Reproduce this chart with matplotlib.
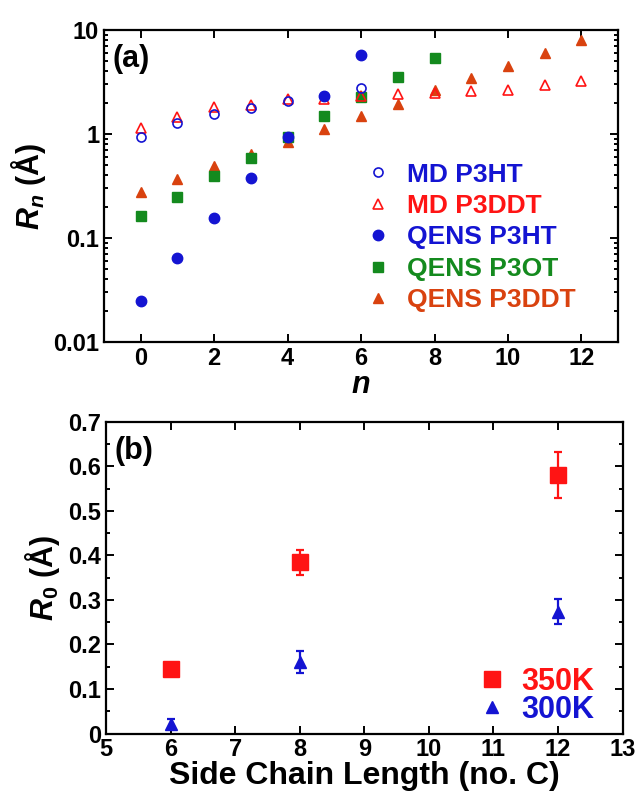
import numpy as np
import matplotlib
matplotlib.use("Agg")
import matplotlib.pyplot as plt
from matplotlib.ticker import FixedLocator, FixedFormatter, LogLocator, NullFormatter, MultipleLocator

plt.rcParams['font.family'] = ['Liberation Sans', 'DejaVu Sans']
plt.rcParams['font.weight'] = 'bold'
plt.rcParams['axes.labelweight'] = 'bold'
plt.rcParams['mathtext.fontset'] = 'custom'
plt.rcParams['mathtext.it'] = 'Liberation Sans:italic:bold'
plt.rcParams['mathtext.rm'] = 'Liberation Sans:bold'
plt.rcParams['axes.linewidth'] = 1.6

BLUE = '#1414d2'
RED = '#ff1414'
GREEN = '#148a1e'
ORANGE = '#d9420f'

# (a) R_n versus n
n_md_p3ht = [0, 1, 2, 3, 4, 5, 6]
md_p3ht = [0.94, 1.27, 1.56, 1.77, 2.08, 2.30, 2.75]
n_md_p3ddt = [0, 1, 2, 3, 4, 5, 6, 7, 8, 9, 10, 11, 12]
md_p3ddt = [1.15, 1.45, 1.80, 1.90, 2.15, 2.17, 2.30, 2.41, 2.46, 2.59, 2.65, 2.96, 3.26]
n_qens_p3ht = [0, 1, 2, 3, 4, 5, 6]
qens_p3ht = [0.0248, 0.0638, 0.155, 0.38, 0.93, 2.33, 5.75]
n_qens_p3ot = [0, 1, 2, 3, 4, 5, 6, 7, 8]
qens_p3ot = [0.164, 0.249, 0.395, 0.592, 0.94, 1.49, 2.25, 3.56, 5.42]
n_qens_p3ddt = [0, 1, 2, 3, 4, 5, 6, 7, 8, 9, 10, 11, 12]
qens_p3ddt = [0.279, 0.367, 0.49, 0.64, 0.84, 1.13, 1.49, 1.94, 2.65, 3.48, 4.54, 5.97, 8.0]

# (b) R_0 versus side chain length
chain = [6, 8, 12]
r0_350 = [0.144, 0.385, 0.580]
r0_350_err = [0.012, 0.028, 0.052]
r0_300 = [0.022, 0.161, 0.274]
r0_300_err = [0.010, 0.024, 0.028]

fig = plt.figure(figsize=(6.38, 7.93), dpi=100)
ax1 = fig.add_axes([0.163, 0.569, 0.806, 0.393])
ax2 = fig.add_axes([0.166, 0.075, 0.810, 0.393])

ax1.plot(n_qens_p3ddt, qens_p3ddt, '^', color=ORANGE, ms=7, label='QENS P3DDT', zorder=3)
ax1.plot(n_qens_p3ot, qens_p3ot, 's', color=GREEN, ms=7, label='QENS P3OT', zorder=3)
ax1.plot(n_md_p3ddt, md_p3ddt, '^', mfc='none', mec=RED, mew=1.2, ms=7, label='MD P3DDT', zorder=4)
ax1.plot(n_md_p3ht, md_p3ht, 'o', mfc='none', mec=BLUE, mew=1.2, ms=6.5, label='MD P3HT', zorder=4)
ax1.plot(n_qens_p3ht, qens_p3ht, 'o', color=BLUE, ms=7.5, label='QENS P3HT', zorder=5)

ax1.set_yscale('log')
ax1.set_xlim(-1, 13)
ax1.set_ylim(0.01, 10)
ax1.xaxis.set_major_locator(MultipleLocator(2))
ax1.yaxis.set_major_locator(FixedLocator([0.01, 0.1, 1, 10]))
ax1.yaxis.set_major_formatter(FixedFormatter(['0.01', '0.1', '1', '10']))
ax1.yaxis.set_minor_locator(LogLocator(base=10, subs=np.arange(2, 10)))
ax1.yaxis.set_minor_formatter(NullFormatter())
ax1.set_xlabel('$n$', fontsize=22, labelpad=0)
ax1.set_ylabel('$R_n$ (Å)', fontsize=22, labelpad=4)
ax1.text(0.016, 0.955, '(a)', transform=ax1.transAxes, fontsize=22, va='top', ha='left')

h, l = ax1.get_legend_handles_labels()
order = [l.index(s) for s in ['MD P3HT', 'MD P3DDT', 'QENS P3HT', 'QENS P3OT', 'QENS P3DDT']]
leg1 = ax1.legend([h[i] for i in order], [l[i] for i in order], loc='upper left',
                  bbox_to_anchor=(0.507, 0.575), frameon=False, fontsize=19,
                  handlelength=1.0, handletextpad=0.62, labelspacing=0.28,
                  borderpad=0, borderaxespad=0)
for t, c in zip(leg1.get_texts(), [BLUE, RED, BLUE, GREEN, ORANGE]):
    t.set_color(c)

ax2.errorbar(chain, r0_350, yerr=r0_350_err, fmt='s', color=RED, ms=11, capsize=3,
             elinewidth=1.6, capthick=1.6, label='350K')
ax2.errorbar(chain, r0_300, yerr=r0_300_err, fmt='^', color=BLUE, ms=9, capsize=3,
             elinewidth=1.6, capthick=1.6, label='300K')
ax2.set_xlim(5, 13)
ax2.set_ylim(0, 0.7)
ax2.xaxis.set_major_locator(MultipleLocator(1))
ax2.yaxis.set_major_locator(MultipleLocator(0.1))
ax2.yaxis.set_minor_locator(MultipleLocator(0.05))
ax2.set_yticks(np.arange(0, 0.71, 0.1))
ax2.set_yticklabels(['0', '0.1', '0.2', '0.3', '0.4', '0.5', '0.6', '0.7'])
ax2.set_xlabel('Side Chain Length (no. C)', fontsize=23, labelpad=0)
ax2.set_ylabel('$R_0$ (Å)', fontsize=22, labelpad=4)
ax2.text(0.016, 0.955, '(b)', transform=ax2.transAxes, fontsize=22, va='top', ha='left')

h2, l2 = ax2.get_legend_handles_labels()
h2 = [hh[0] for hh in h2]
leg2 = ax2.legend(h2, l2, loc='upper left', bbox_to_anchor=(0.718, 0.215), frameon=False,
                  fontsize=22, handlelength=1.0, handletextpad=0.46, labelspacing=-0.06,
                  borderpad=0, borderaxespad=0)
for t, c in zip(leg2.get_texts(), [RED, BLUE]):
    t.set_color(c)

for ax in (ax1, ax2):
    ax.tick_params(which='both', direction='in', top=True, right=True, labelsize=17, width=1.4)
    ax.tick_params(which='major', length=6)
    ax.tick_params(which='minor', length=3)
ax1.tick_params(axis='x', which='minor', top=False, bottom=False)

fig.savefig('out.png', dpi=100)
